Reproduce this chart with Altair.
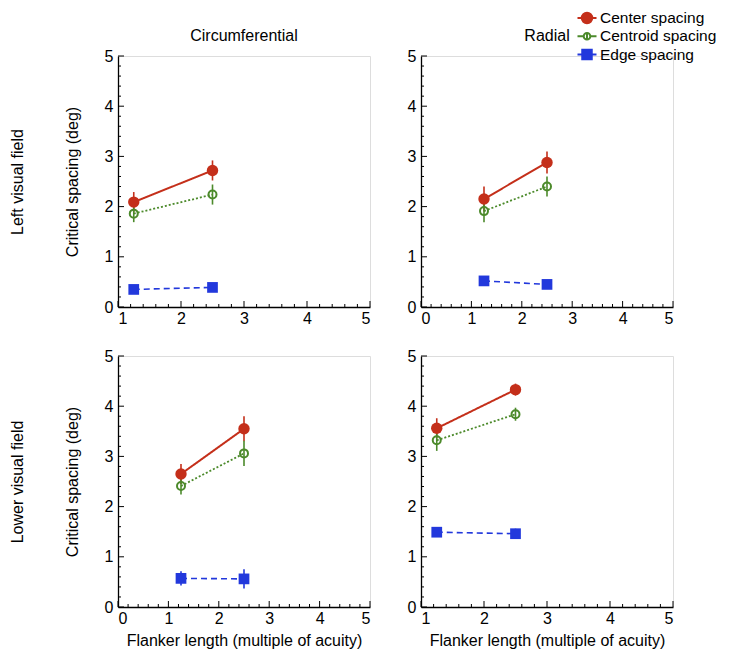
import altair as alt
import pandas as pd

# ---------------- data ----------------
series = ["Center spacing", "Centroid spacing", "Edge spacing"]
lengths = [1.25, 2.5]

panel_keys = ["left_circ", "left_rad", "lower_circ", "lower_rad"]

center_vals = {
    "left_circ": [2.09, 2.72], "left_rad": [2.15, 2.88],
    "lower_circ": [2.65, 3.55], "lower_rad": [3.56, 4.33],
}
center_err = {
    "left_circ": [0.20, 0.20], "left_rad": [0.25, 0.22],
    "lower_circ": [0.20, 0.25], "lower_rad": [0.20, 0.12],
}
centroid_vals = {
    "left_circ": [1.86, 2.24], "left_rad": [1.91, 2.40],
    "lower_circ": [2.41, 3.06], "lower_rad": [3.32, 3.84],
}
centroid_err = {
    "left_circ": [0.17, 0.20], "left_rad": [0.22, 0.20],
    "lower_circ": [0.17, 0.25], "lower_rad": [0.21, 0.13],
}
edge_vals = {
    "left_circ": [0.35, 0.39], "left_rad": [0.52, 0.45],
    "lower_circ": [0.57, 0.56], "lower_rad": [1.49, 1.46],
}
edge_err = {
    "left_circ": [0.05, 0.05], "left_rad": [0.06, 0.06],
    "lower_circ": [0.14, 0.19], "lower_rad": [0.09, 0.10],
}

x_domains = {
    "left_circ": [1, 5], "left_rad": [0, 5],
    "lower_circ": [0, 5], "lower_rad": [1, 5],
}

rows = []
for key in panel_keys:
    for s, vals, errs in [
        (series[0], center_vals[key], center_err[key]),
        (series[1], centroid_vals[key], centroid_err[key]),
        (series[2], edge_vals[key], edge_err[key]),
    ]:
        for L, v, e in zip(lengths, vals, errs):
            rows.append({"panel": key, "series": s, "length": L,
                         "value": v, "lo": v - e, "hi": v + e})
df = pd.DataFrame(rows)
legend_df = pd.DataFrame({"series": series})

# tick positions (axis decoration), 0.2 apart, majors at integers
tick_rows = []
for key in panel_keys:
    d0, d1 = x_domains[key]
    for i in range(int((d1 - d0) * 5) + 1):
        v = round(d0 + 0.2 * i, 2)
        tick_rows.append({"panel": key, "axis": "x", "tv": v, "major": abs(v - round(v)) < 1e-6})
    for i in range(26):
        v = round(0.2 * i, 2)
        tick_rows.append({"panel": key, "axis": "y", "tv": v, "major": abs(v - round(v)) < 1e-6})
ticks_df = pd.DataFrame(tick_rows)

# ---------------- styles ----------------
FONT = "Liberation Sans"
colors = ["#c42f1a", "#4c8a2b", "#2238dc"]
legend_fills = ["#c42f1a", "transparent", "#2238dc"]
dashes = [[1, 0], [2, 2], [6, 4]]
line_widths = [2.0, 1.6, 1.6]

legend_paths = [
    "M-1,0H-0.55M0.55,0H1M-0.55,0A0.55,0.55,0,1,1,0.55,0A0.55,0.55,0,1,1,-0.55,0Z",
    "M-1,0H-0.35M0.35,0H1M-0.35,0A0.35,0.35,0,1,1,0.35,0A0.35,0.35,0,1,1,-0.35,0ZM0,-0.35V0.35",
    "M-1,0H-0.5M0.5,0H1M-0.5,-0.5H0.5V0.5H-0.5Z",
]

W, H = 252, 251
ROW_GAP, COL_GAP = 49, 51
MINOR, MAJOR = 3, 6

color_scale = alt.Scale(domain=series, range=colors)


def panel(key, ytitle, xtitle, coltitle, with_legend):
    d0, d1 = x_domains[key]
    xscale = alt.Scale(domain=[d0, d1], nice=False, zero=False)
    yscale = alt.Scale(domain=[0, 5], nice=False, zero=True)
    base = alt.Chart(df).transform_filter(alt.datum.panel == key)
    tbase = alt.Chart(ticks_df).transform_filter(alt.datum.panel == key)

    xaxis = alt.Axis(values=list(range(d0, d1 + 1)), ticks=False, grid=False,
                     domainColor="black", domainWidth=1.3, labelPadding=3,
                     labelFontSize=16, labelColor="black", labelFont=FONT,
                     title=xtitle if xtitle else None, titleFontSize=16,
                     titleFont=FONT, titleFontWeight="normal", titleColor="black",
                     titlePadding=6)
    yaxis = alt.Axis(values=[0, 1, 2, 3, 4, 5], ticks=False, grid=False,
                     domainColor="black", domainWidth=1.3, labelPadding=5,
                     labelFontSize=16, labelColor="black", labelFont=FONT,
                     title=ytitle if ytitle else None, titleFontSize=16,
                     titleFont=FONT, titleFontWeight="normal", titleColor="black",
                     titlePadding=24, titleLineHeight=55)

    xs = alt.X("length:Q", scale=xscale, axis=None)
    ys = alt.Y("value:Q", scale=yscale, axis=None)
    color = alt.Color("series:N", scale=color_scale, legend=None)

    errbars = base.mark_rule(strokeWidth=1.6).encode(
        x=alt.X("length:Q", scale=xscale, axis=xaxis),
        y=alt.Y("lo:Q", scale=yscale, axis=yaxis),
        y2="hi:Q", color=color)
    lines = base.mark_line().encode(
        x=xs, y=ys, color=color,
        strokeDash=alt.StrokeDash("series:N", scale=alt.Scale(domain=series, range=dashes), legend=None),
        strokeWidth=alt.StrokeWidth("series:N", scale=alt.Scale(domain=series, range=line_widths), legend=None),
    )
    filled_circles = base.transform_filter(alt.datum.series == series[0]).mark_point(
        shape="circle", filled=True, size=130, opacity=1).encode(x=xs, y=ys, color=color)
    hollow_circles = base.transform_filter(alt.datum.series == series[1]).mark_point(
        shape="circle", filled=False, size=64, strokeWidth=2, opacity=1).encode(x=xs, y=ys, color=color)
    squares = base.transform_filter(alt.datum.series == series[2]).mark_point(
        shape="square", filled=True, size=115, opacity=1).encode(x=xs, y=ys, color=color)

    tick_layers = []
    for is_major, size in [(False, MINOR), (True, MAJOR)]:
        tx = tbase.transform_filter((alt.datum.axis == "x") & (alt.datum.major == is_major)).mark_rule(
            color="black", strokeWidth=1).encode(
            x=alt.X("tv:Q", scale=xscale, axis=None),
            y=alt.value(H), y2=alt.value(H - size))
        ty = tbase.transform_filter((alt.datum.axis == "y") & (alt.datum.major == is_major)).mark_rule(
            color="black", strokeWidth=1).encode(
            y=alt.Y("tv:Q", scale=yscale, axis=None),
            x=alt.value(0), x2=alt.value(size))
        tick_layers += [tx, ty]

    layers = [errbars, lines, filled_circles, hollow_circles, squares] + tick_layers
    if with_legend:
        # key at the top-right of the figure (above the upper-right panel);
        # drawn from this lower-right panel so it does not push the panel titles
        top = -(H + ROW_GAP)
        ly = alt.Y("series:N", scale=alt.Scale(domain=series, range=[top - 38, top - 1.5], padding=0),
                   axis=None)
        leg_sym = alt.Chart(legend_df).mark_point(filled=False, size=361, strokeWidth=2, opacity=1).encode(
            y=ly, x=alt.value(166), color=color,
            shape=alt.Shape("series:N", scale=alt.Scale(domain=series, range=legend_paths), legend=None),
            fill=alt.Fill("series:N", scale=alt.Scale(domain=series, range=legend_fills), legend=None),
        )
        leg_txt = alt.Chart(legend_df).mark_text(
            align="left", baseline="middle", fontSize=15.5, font=FONT, color="black").encode(
            y=ly, x=alt.value(179), text="series:N")
        layers += [leg_sym, leg_txt]

    props = dict(width=W, height=H)
    if coltitle:
        props["title"] = alt.TitleParams(coltitle, fontSize=16, font=FONT,
                                         fontWeight="normal", color="black",
                                         anchor="middle", offset=4)
    ch = alt.layer(*layers).resolve_axis(x="independent", y="independent")
    if with_legend:
        ch = ch.resolve_scale(y="independent")
    return ch.properties(**props)


tl = panel("left_circ", ["Left visual field", "Critical spacing (deg)"], None, "Circumferential", False)
tr = panel("left_rad", None, None, "Radial", False)
bl = panel("lower_circ", ["Lower visual field", "Critical spacing (deg)"],
           "Flanker length (multiple of acuity)", None, False)
br = panel("lower_rad", None, "Flanker length (multiple of acuity)", None, True)

chart = alt.ConcatChart(
    concat=[tl, tr, bl, br], columns=2,
    spacing=alt.RowColnumber(row=ROW_GAP, column=COL_GAP), bounds="flush",
).configure_view(stroke=None).configure(
    padding={"left": 0, "top": 0, "right": 0, "bottom": 0})

chart.save("out.html", embed_options={"renderer": "svg", "actions": False})
